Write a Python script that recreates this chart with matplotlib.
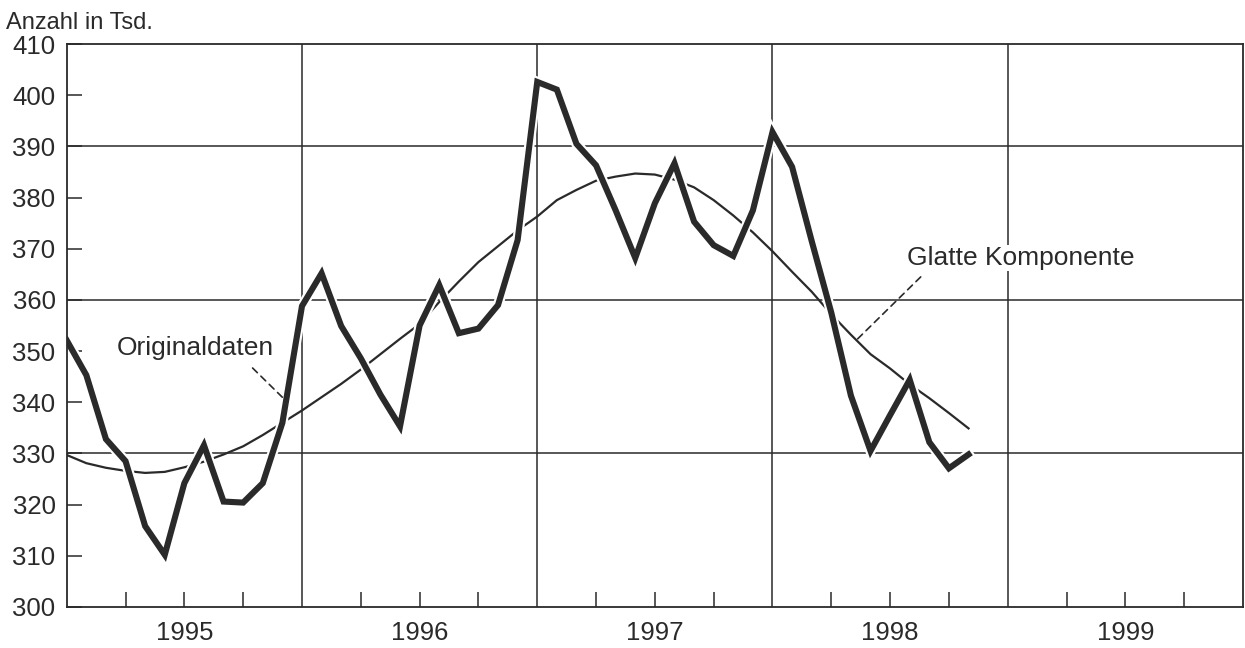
import numpy as np
import matplotlib
matplotlib.use("Agg")
import matplotlib.pyplot as plt
import matplotlib.patheffects as pe

plt.rcParams["font.family"] = ["Liberation Sans", "DejaVu Sans"]

# ── Data (monthly, Jan 1995 .. Nov 1998), values in thousands ───────────────
START_YEAR = 1995
original = [352.1, 345.3, 332.8, 328.5, 315.8, 310.2, 324.2, 331.6, 320.6, 320.4,
            324.2, 336.0, 358.8, 365.2, 354.9, 348.6, 341.5, 335.3, 355.0, 362.9,
            353.5, 354.4, 359.0, 371.7, 402.6, 401.1, 390.5, 386.3, 377.5, 368.2,
            378.9, 386.7, 375.3, 370.7, 368.6, 377.5, 392.8, 386.0, 371.5, 357.5,
            341.3, 330.5, 337.5, 344.4, 332.2, 327.1, 329.8]
smooth = [329.7, 328.1, 327.2, 326.6, 326.2, 326.4, 327.3, 328.4, 329.8, 331.4,
          333.6, 336.0, 338.4, 341.0, 343.6, 346.4, 349.4, 352.4, 355.3, 359.6,
          363.6, 367.4, 370.5, 373.6, 376.3, 379.5, 381.5, 383.3, 384.1, 384.7,
          384.5, 383.5, 382.0, 379.5, 376.5, 373.2, 369.5, 365.5, 361.6, 357.2,
          353.2, 349.4, 346.6, 343.5, 340.8, 337.9, 334.9]
years = [1995, 1996, 1997, 1998, 1999]

x = START_YEAR + np.arange(len(original)) / 12.0
INK = "#2a2a2a"

fig = plt.figure(figsize=(12.45, 6.48), dpi=100)
ax = fig.add_axes([0.0536, 0.0633, 0.9448, 0.8687])

# grid (only every 30 / every year)
for yv in (330, 360, 390):
    ax.axhline(yv, color=INK, lw=1.1, zorder=1)
for xv in years[1:]:
    ax.axvline(xv, color=INK, lw=1.1, zorder=1)

ax.plot(x, smooth, color=INK, lw=1.6, zorder=2.2)
ax.plot(x, original, color=INK, lw=4.4, zorder=2.4, solid_joinstyle="miter",
        path_effects=[pe.Stroke(linewidth=7.5, foreground="white"), pe.Normal()])

# labels with dashed leaders
dash = dict(arrowstyle="-", ls=(0, (4, 3)), color=INK, lw=1.2,
            shrinkA=0, shrinkB=0)
ax.text(1995.545, 350.6, "Originaldaten", fontsize=19, color=INK,
        ha="center", va="center", zorder=4)
ax.annotate("", xy=(1995.925, 340.6), xytext=(1995.79, 346.7), arrowprops=dash)
ax.text(1998.572, 368.2, "Glatte Komponente", fontsize=19, color=INK,
        ha="left", va="center", zorder=4,
        bbox=dict(boxstyle="square,pad=0.05", fc="white", ec="none"))
ax.annotate("", xy=(1998.36, 352.3), xytext=(1998.63, 364.5), arrowprops=dash)

ax.set_xlim(1995, 2000)
ax.set_ylim(300, 410)
ax.set_yticks(np.arange(300, 411, 10))
ax.tick_params(axis="y", direction="in", length=11, width=1.1, color=INK,
               labelsize=18.5, labelcolor=INK, pad=8)

quarters = [y + q / 4 for y in years for q in (1, 2, 3)]
ax.xaxis.remove_overlapping_locs = False
ax.set_xticks(quarters)
ax.set_xticklabels([])
ax.tick_params(axis="x", which="major", direction="in", length=11, width=1.1,
               color=INK)
ax.set_xticks([y + 0.5 for y in years], [str(y) for y in years], minor=True)
ax.tick_params(axis="x", which="minor", length=0, labelsize=18.5, labelcolor=INK,
               pad=10)

for s in ax.spines.values():
    s.set_color(INK)
    s.set_linewidth(1.3)

fig.text(0.005, 0.982, "Anzahl in Tsd.", fontsize=17, color=INK,
         ha="left", va="top")

fig.savefig("out.png", dpi=100)
